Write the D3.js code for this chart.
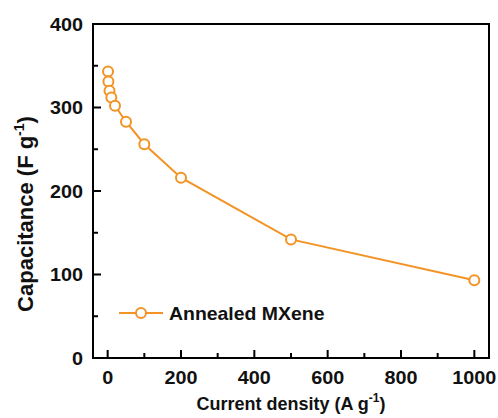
<!DOCTYPE html>
<html>
<head>
<meta charset="UTF-8" />
<script src="https://d3js.org/d3.v7.min.js"></script>
<style>
  body { margin: 0; background: #fff; }
  text { font-family: "Liberation Sans", Arial, sans-serif; font-weight: bold; fill: #111; }
</style>
</head>
<body>
<div id="chart"></div>
<script>
  // data
  const currentDensity = [1, 2, 5, 10, 20, 50, 100, 200, 500, 1000];
  const capacitance = [343, 331, 320, 312, 302, 283, 256, 216, 142, 93];
  const xTicks = [0, 200, 400, 600, 800, 1000];
  const xMinor = [100, 300, 500, 700, 900];
  const yTicks = [0, 100, 200, 300, 400];
  const yMinor = [50, 150, 250, 350];
  const seriesName = "Annealed MXene";

  const W = 498, H = 418;
  const orange = "#f39325";

  const svg = d3.select("#chart").append("svg")
    .attr("width", W).attr("height", H);

  const x = d3.scaleLinear().domain([-40, 1040]).range([93, 489]);
  const y = d3.scaleLinear().domain([0, 400]).range([358, 24]);
  const x0 = x(-40), y0 = y(0);

  // ticks, pointing into the plot
  const xAll = xTicks.map(v => ({ v, len: 8 })).concat(xMinor.map(v => ({ v, len: 5 })));
  const yAll = yTicks.map(v => ({ v, len: 8 })).concat(yMinor.map(v => ({ v, len: 5 })));

  svg.selectAll(".xt").data(xAll).enter().append("line")
    .attr("class", "xt")
    .attr("x1", d => x(d.v)).attr("x2", d => x(d.v))
    .attr("y1", y0).attr("y2", d => y0 - d.len)
    .attr("stroke", "#000").attr("stroke-width", 2);

  svg.selectAll(".yt").data(yAll).enter().append("line")
    .attr("class", "yt")
    .attr("x1", x0).attr("x2", d => x0 + d.len)
    .attr("y1", d => y(d.v)).attr("y2", d => y(d.v))
    .attr("stroke", "#000").attr("stroke-width", 2);

  // frame
  svg.append("rect")
    .attr("x", x.range()[0]).attr("y", y.range()[1])
    .attr("width", x.range()[1] - x.range()[0])
    .attr("height", y.range()[0] - y.range()[1])
    .attr("fill", "none").attr("stroke", "#000").attr("stroke-width", 2);

  // tick labels (slightly widened like the original)
  svg.selectAll(".xl").data(xTicks).enter().append("text")
    .attr("transform", d => `translate(${x(d)},384) scale(1.1,1)`)
    .attr("text-anchor", "middle").style("font-size", "18px")
    .text(d3.format("d"));
  svg.selectAll(".yl").data(yTicks).enter().append("text")
    .attr("transform", d => `translate(83,${y(d) + 6.5}) scale(1.1,1)`)
    .attr("text-anchor", "end").style("font-size", "18px")
    .text(d3.format("d"));

  // axis titles
  const xt = svg.append("text")
    .attr("x", 291).attr("y", 410)
    .attr("text-anchor", "middle").style("font-size", "18px");
  xt.append("tspan").text("Current density (A g");
  xt.append("tspan").attr("dy", -8).style("font-size", "12px").text("-1");
  xt.append("tspan").attr("dy", 8).text(")");

  const yt = svg.append("text")
    .attr("transform", "translate(33,214) rotate(-90)")
    .attr("text-anchor", "middle").style("font-size", "22px");
  yt.append("tspan").text("Capacitance (F g");
  yt.append("tspan").attr("dy", -9).style("font-size", "14px").text("-1");
  yt.append("tspan").attr("dy", 9).text(")");

  // series
  const pts = currentDensity.map((d, i) => [d, capacitance[i]]);
  svg.append("path").datum(pts)
    .attr("fill", "none").attr("stroke", orange).attr("stroke-width", 2)
    .attr("d", d3.line().x(d => x(d[0])).y(d => y(d[1])));

  svg.selectAll(".pt").data(pts).enter().append("circle")
    .attr("class", "pt")
    .attr("cx", d => x(d[0])).attr("cy", d => y(d[1])).attr("r", 5)
    .attr("fill", "#fff").attr("stroke", orange).attr("stroke-width", 2);

  // legend
  const ly = 313;
  svg.append("line").attr("x1", 119).attr("x2", 163).attr("y1", ly).attr("y2", ly)
    .attr("stroke", orange).attr("stroke-width", 2);
  svg.append("circle").attr("cx", 141).attr("cy", ly).attr("r", 5)
    .attr("fill", "#fff").attr("stroke", orange).attr("stroke-width", 2);
  svg.append("text")
    .attr("transform", `translate(169,${ly + 6.5}) scale(1.08,1)`)
    .style("font-size", "18px").text(seriesName);
</script>
</body>
</html>
